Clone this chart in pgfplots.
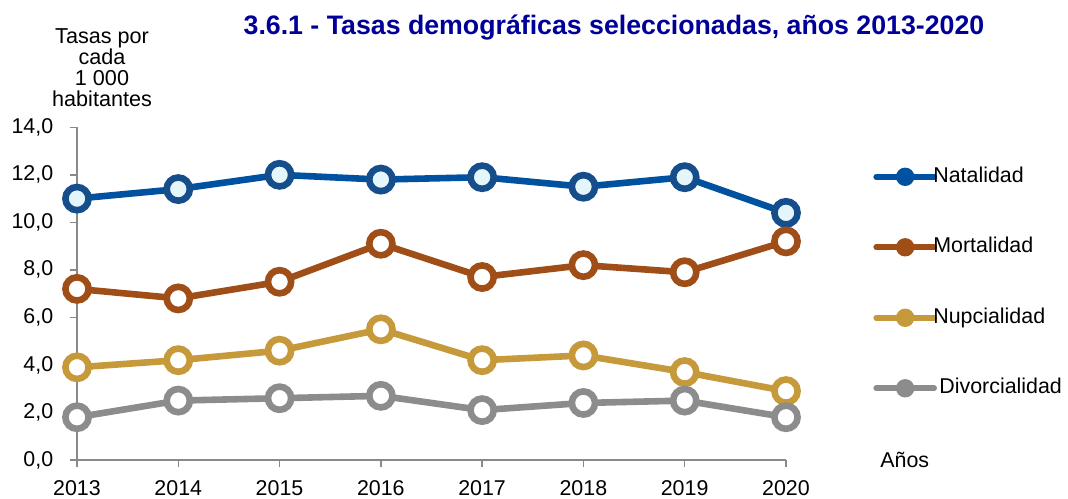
\documentclass[border=0pt]{standalone}
\usepackage{pgfplots}
\pgfplotsset{compat=1.18}
\usepackage{fontspec}
\setmainfont{Liberation Sans}
\definecolor{natc}{RGB}{0,82,160}
\definecolor{natm}{RGB}{22,78,140}
\definecolor{natf}{RGB}{228,246,250}
\definecolor{morc}{RGB}{160,78,24}
\definecolor{nupc}{RGB}{198,153,58}
\definecolor{divc}{RGB}{140,140,140}
\definecolor{titc}{RGB}{0,0,153}
\definecolor{axc}{RGB}{137,137,137}
\pgfplotsset{myleg/.style={legend image code/.code={
    \draw[draw=#1, line width=2.8pt, line cap=round] (0pt,0pt) -- (29pt,0pt);
    \pgfsetfillcolor{#1}
    \pgfpathcircle{\pgfpoint{14.5pt}{0pt}}{4.6pt}
    \pgfusepath{fill}
  }}}
\begin{document}
\begin{tikzpicture}
\path[use as bounding box] (0,0) rectangle (534pt,249pt);
\begin{axis}[
  at={(38.5pt,19pt)}, anchor=south west,
  scale only axis, width=354.5pt, height=166.35pt,
  xmin=2013, xmax=2020, ymin=0, ymax=14,
  clip=false,
  axis x line=bottom, axis y line=left,
  axis line style={-, draw=axc, line width=0.75pt},
  xtick={2013,...,2020}, ytick={0,2,...,14},
  tick align=outside, major tick length=3.5pt,
  tick style={draw=axc, line width=0.75pt},
  xticklabel style={/pgf/number format/1000 sep={}, inner sep=0pt, anchor=north, yshift=-6.5pt},
  yticklabel style={/pgf/number format/.cd, fixed, fixed zerofill, precision=1, use comma, /tikz/.cd, inner sep=0pt, anchor=east, xshift=-8.2pt},
  /pgf/number format/assume math mode=true,
  tick label style={font=\fontsize{10.7}{12}\selectfont},
  title={\textbf{3.6.1 - Tasas demográficas seleccionadas, años 2013-2020}},
  title style={at={(axis description cs:0.7574,1.2443)}, anchor=base, inner sep=0pt, text=titc, font=\fontsize{13.36}{15}\selectfont},
  ylabel={Tasas por\\cada\\1 000\\habitantes},
  ylabel style={at={(axis description cs:0.0353,1.0592)}, anchor=south, rotate=-90, inner sep=0pt, align=center, font=\fontsize{10.8}{10.6}\selectfont},
  xlabel={Años},
  xlabel style={at={(axis description cs:1.1326,0)}, anchor=west, inner sep=0pt, font=\fontsize{10.7}{12}\selectfont},
  legend style={at={(axis description cs:1.1227,0.884)}, anchor=north west, draw=none, fill=none, inner sep=0pt,
    row sep=24.75pt, column sep=-1.8pt, font=\fontsize{10.7}{12}\selectfont,
    nodes={inner sep=0pt, text height=8pt, text depth=2.5pt}},
  legend cell align=left,
  every axis plot/.append style={line width=3.3pt, mark=*, mark size=5.8pt},
]
\addplot[color=natc, myleg=natc, mark options={draw=natm, fill=natf, line width=3.3pt}] coordinates {
 (2013,11.0) (2014,11.4) (2015,12.0) (2016,11.8) (2017,11.9) (2018,11.5) (2019,11.9) (2020,10.4)};
\addlegendentry{Natalidad}
\addplot[color=morc, myleg=morc, mark options={fill=white, line width=3.3pt}] coordinates {
 (2013,7.2) (2014,6.8) (2015,7.5) (2016,9.1) (2017,7.7) (2018,8.2) (2019,7.9) (2020,9.2)};
\addlegendentry{Mortalidad}
\addplot[color=nupc, myleg=nupc, mark options={fill=white, line width=3.3pt}] coordinates {
 (2013,3.9) (2014,4.2) (2015,4.6) (2016,5.5) (2017,4.2) (2018,4.4) (2019,3.7) (2020,2.9)};
\addlegendentry{Nupcialidad}
\addplot[color=divc, myleg=divc, mark options={fill=white, line width=3.3pt}] coordinates {
 (2013,1.8) (2014,2.5) (2015,2.6) (2016,2.7) (2017,2.1) (2018,2.4) (2019,2.5) (2020,1.8)};
\addlegendentry{\hspace{3pt}Divorcialidad}
\end{axis}
\end{tikzpicture}
\end{document}
